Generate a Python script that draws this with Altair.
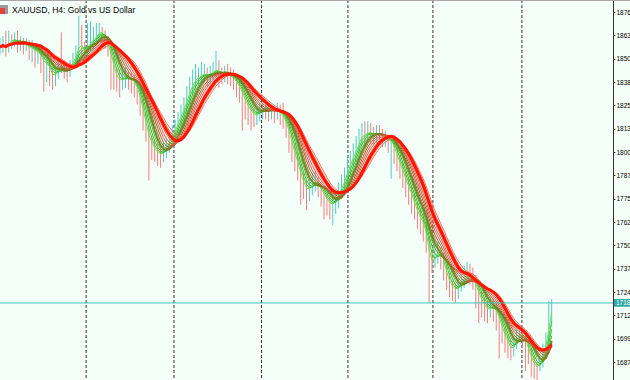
import altair as alt
import pandas as pd

# ---- data (XAUUSD H4 bars) ----
close = [1857, 1859, 1856, 1861, 1860, 1862, 1859, 1860, 1858, 1859,
         1856, 1857, 1854, 1855, 1851, 1848, 1849, 1844, 1841, 1843,
         1847, 1846, 1845, 1844, 1847, 1850, 1853, 1860, 1856, 1855,
         1858, 1860, 1862, 1863, 1866, 1864, 1861, 1857, 1851, 1844,
         1840, 1839, 1840, 1841, 1840, 1839, 1838, 1833, 1828, 1820,
         1813, 1807, 1804, 1801, 1800, 1799, 1801, 1804, 1807, 1810,
         1813, 1818, 1821, 1825, 1830, 1834, 1838, 1840, 1841, 1842,
         1843, 1841, 1843, 1844, 1845, 1843, 1842, 1843, 1842, 1841,
         1840, 1837, 1835, 1831, 1827, 1824, 1822, 1820, 1821, 1823,
         1825, 1824, 1823, 1823, 1822, 1823, 1821, 1819, 1815, 1809,
         1803, 1798, 1792, 1787, 1782, 1780, 1781, 1784, 1785, 1782,
         1779, 1777, 1774, 1772, 1773, 1775, 1779, 1782, 1786, 1791,
         1795, 1799, 1802, 1807, 1810, 1809, 1812, 1810, 1809, 1811,
         1810, 1808, 1808, 1806, 1807, 1801, 1797, 1793, 1788, 1784,
         1780, 1776, 1771, 1767, 1764, 1761, 1753, 1743, 1741, 1745,
         1747, 1745, 1739, 1733, 1729, 1727, 1726, 1728, 1731, 1733,
         1735, 1734, 1731, 1727, 1723, 1719, 1717, 1715, 1717, 1716,
         1714, 1709, 1704, 1700, 1696, 1694, 1696, 1701, 1703, 1701,
         1698, 1692, 1688, 1685, 1684, 1687, 1692, 1699, 1709, 1718.9]

high = [1862, 1863, 1866, 1866, 1864, 1865, 1866, 1863, 1862, 1862,
        1861, 1861, 1859, 1858, 1856, 1853, 1852, 1850, 1846, 1847,
        1851, 1865, 1850, 1848, 1850, 1854, 1858, 1874, 1869, 1860,
        1870, 1871, 1868, 1870, 1870, 1868, 1866, 1863, 1858, 1852,
        1846, 1845, 1844, 1846, 1844, 1843, 1842, 1839, 1835, 1830,
        1822, 1815, 1809, 1807, 1805, 1803, 1806, 1808, 1811, 1815,
        1818, 1822, 1826, 1830, 1836, 1841, 1845, 1848, 1846, 1849,
        1848, 1846, 1847, 1849, 1855, 1850, 1846, 1847, 1848, 1846,
        1845, 1842, 1839, 1836, 1832, 1829, 1826, 1824, 1825, 1827,
        1829, 1828, 1826, 1826, 1825, 1827, 1826, 1827, 1821, 1817,
        1811, 1805, 1800, 1794, 1789, 1785, 1786, 1789, 1790, 1787,
        1784, 1782, 1779, 1776, 1778, 1780, 1784, 1788, 1792, 1797,
        1801, 1805, 1809, 1813, 1816, 1817, 1817, 1816, 1814, 1815,
        1815, 1813, 1812, 1810, 1809, 1808, 1803, 1799, 1795, 1790,
        1786, 1782, 1778, 1773, 1770, 1767, 1762, 1755, 1748, 1752,
        1752, 1749, 1746, 1740, 1735, 1731, 1730, 1732, 1736, 1739,
        1741, 1740, 1738, 1734, 1729, 1725, 1722, 1720, 1722, 1721,
        1719, 1716, 1711, 1706, 1702, 1699, 1701, 1705, 1707, 1705,
        1703, 1699, 1694, 1690, 1687, 1690, 1697, 1703, 1720, 1721]

low = [1853, 1854, 1852, 1854, 1856, 1857, 1854, 1855, 1853, 1855,
       1850, 1849, 1846, 1848, 1843, 1833, 1838, 1836, 1834, 1836,
       1840, 1843, 1840, 1838, 1841, 1845, 1848, 1851, 1852, 1849,
       1852, 1855, 1856, 1858, 1860, 1859, 1856, 1852, 1834, 1834,
       1833, 1830, 1834, 1835, 1834, 1832, 1830, 1826, 1820, 1812,
       1806, 1785, 1796, 1795, 1793, 1792, 1795, 1797, 1800, 1803,
       1806, 1810, 1814, 1817, 1821, 1826, 1831, 1834, 1836, 1837,
       1838, 1836, 1837, 1839, 1840, 1835, 1837, 1838, 1837, 1836,
       1834, 1830, 1827, 1812, 1818, 1815, 1812, 1814, 1815, 1817,
       1818, 1818, 1817, 1818, 1816, 1818, 1815, 1813, 1808, 1800,
       1795, 1790, 1785, 1772, 1775, 1769, 1774, 1777, 1779, 1776,
       1771, 1764, 1766, 1764, 1761, 1767, 1770, 1775, 1779, 1783,
       1787, 1792, 1795, 1800, 1804, 1803, 1806, 1805, 1804, 1805,
       1806, 1803, 1803, 1800, 1786, 1794, 1790, 1786, 1781, 1776,
       1772, 1767, 1764, 1759, 1756, 1752, 1746, 1719, 1735, 1738,
       1740, 1737, 1731, 1726, 1722, 1720, 1719, 1721, 1725, 1727,
       1730, 1729, 1726, 1716, 1708, 1711, 1709, 1708, 1711, 1709,
       1704, 1689, 1697, 1692, 1689, 1688, 1690, 1694, 1698, 1696,
       1682, 1686, 1679, 1678, 1677, 1682, 1684, 1689, 1697, 1706]

# week separators (bar positions)
separators = [29.5, 59.6, 89.6, 119.2, 148.3, 178.8]

# right price-scale ticks
price_ticks = [1687.0, 1699.6, 1712.2, 1724.8, 1737.4, 1750.0, 1762.6, 1775.2,
               1787.8, 1800.4, 1813.0, 1825.6, 1838.2, 1850.8, 1863.4, 1876.0]

title_text = "XAUUSD, H4:  Gold vs US Dollar"

# moving-average ribbon: (period, colour, width)
ribbon = [
    (2, "#74DD4A", 1), (3, "#3CCB34", 1), (4, "#2FB82F", 1), (5, "#58B034", 1),
    (6, "#6F8A1F", 2), (7, "#8E6E22", 1), (8, "#A8572E", 1), (9, "#CC5A3E", 1),
    (10, "#E85445", 1), (11, "#FF6656", 1), (13, "#FF5544", 1), (14, "#FF6A5A", 1),
    (12, "#FF1500", 3),
]

BG = "#F4FFF9"
UP = "#56C7C4"
DOWN = "#F37D7D"
PRICE_LINE = "#45BFBF"
PRICE_BOX = "#2FA9A4"
FONT = "Liberation Sans"

n = len(close)
opens = [close[0]] + close[:-1]
df = pd.DataFrame({
    "i": list(range(n)),
    "open": opens,
    "high": high,
    "low": low,
    "close": close,
})
df["dir"] = ["up" if c >= o else "down" for o, c in zip(opens, close)]

xs = alt.Scale(domain=[0, 210], nice=False, zero=False)
ys = alt.Scale(domain=[1677.3, 1882.5], nice=False, zero=False)
y_axis = alt.Axis(values=price_ticks, labelExpr="floor(datum.value)", orient="right", title=None,
                  grid=False, tickSize=2, tickColor="#303030", domainColor="#303030",
                  labelFont=FONT, labelFontSize=6.5, labelColor="#000000",
                  labelPadding=1, labelBaseline="middle", labelAlign="left",
                  labelFlush=False, labelOverlap=False)

base = alt.Chart(df)

bars = base.mark_rule(strokeWidth=1, clip=True).encode(
    x=alt.X("i:Q", scale=xs, axis=None),
    y=alt.Y("low:Q", scale=ys, axis=y_axis),
    y2="high:Q",
    color=alt.Color("dir:N", scale=alt.Scale(domain=["up", "down"], range=[UP, DOWN]), legend=None),
)

sep_df = pd.DataFrame({"s": separators})
seps = alt.Chart(sep_df).mark_rule(color="#333333", strokeWidth=1, strokeDash=[3, 2]).encode(
    x=alt.X("s:Q", scale=xs, axis=None)
)

lines = []
for period, col, w in ribbon:
    lines.append(
        base.transform_window(ma="mean(close)", frame=[-(period - 1), 0],
                              sort=[alt.SortField("i", order="ascending")])
        .mark_line(color=col, strokeWidth=w, clip=True)
        .encode(x=alt.X("i:Q", scale=xs, axis=None),
                y=alt.Y("ma:Q", scale=ys, axis=y_axis))
    )

last_df = pd.DataFrame({"price": [close[-1]]})
pline = alt.Chart(last_df).mark_rule(color=PRICE_LINE, strokeWidth=1).encode(
    y=alt.Y("price:Q", scale=ys, axis=y_axis)
)
pbox = alt.Chart(last_df).transform_calculate(
    top="datum.price + 2.1", bot="datum.price - 2.1"
).mark_rect(color=PRICE_BOX, clip=False).encode(
    x=alt.value(614), x2=alt.value(650),
    y=alt.Y("top:Q", scale=ys, axis=y_axis), y2="bot:Q",
)
ptext = alt.Chart(last_df).transform_calculate(
    lab="floor(datum.price)"
).mark_text(align="left", baseline="middle", color="white",
            font=FONT, fontSize=6.5, clip=False).encode(
    x=alt.value(616),
    y=alt.Y("price:Q", scale=ys, axis=y_axis),
    text="lab:N",
)

tdf = pd.DataFrame({"t": [title_text]})
title = alt.Chart(tdf).mark_text(align="left", baseline="middle", font=FONT,
                                 fontSize=8.5, color="#000000").encode(
    x=alt.value(12), y=alt.value(10), text="t:N"
)
icon_gray = alt.Chart(tdf).mark_rect(color="#9A9A9A").encode(
    x=alt.value(0), x2=alt.value(8), y=alt.value(5), y2=alt.value(14)
)
icon_red = alt.Chart(tdf).mark_rect(color="#E0443C").encode(
    x=alt.value(0), x2=alt.value(5), y=alt.value(8), y2=alt.value(14)
)
top_border = alt.Chart(tdf).mark_rule(color="#A8A8A8", strokeWidth=2, clip=False).encode(
    x=alt.value(0), x2=alt.value(650), y=alt.value(0)
)

chart = alt.layer(
    seps, bars, *lines, pline, pbox, ptext, title, icon_gray, icon_red, top_border
).properties(
    width=613, height=380,
    padding={"left": 0, "right": 17, "top": 0, "bottom": 0},
    autosize="none",
    background=BG,
).configure_view(strokeWidth=0, fill=BG)

chart.save("out.html", embed_options={"renderer": "svg", "actions": False})
